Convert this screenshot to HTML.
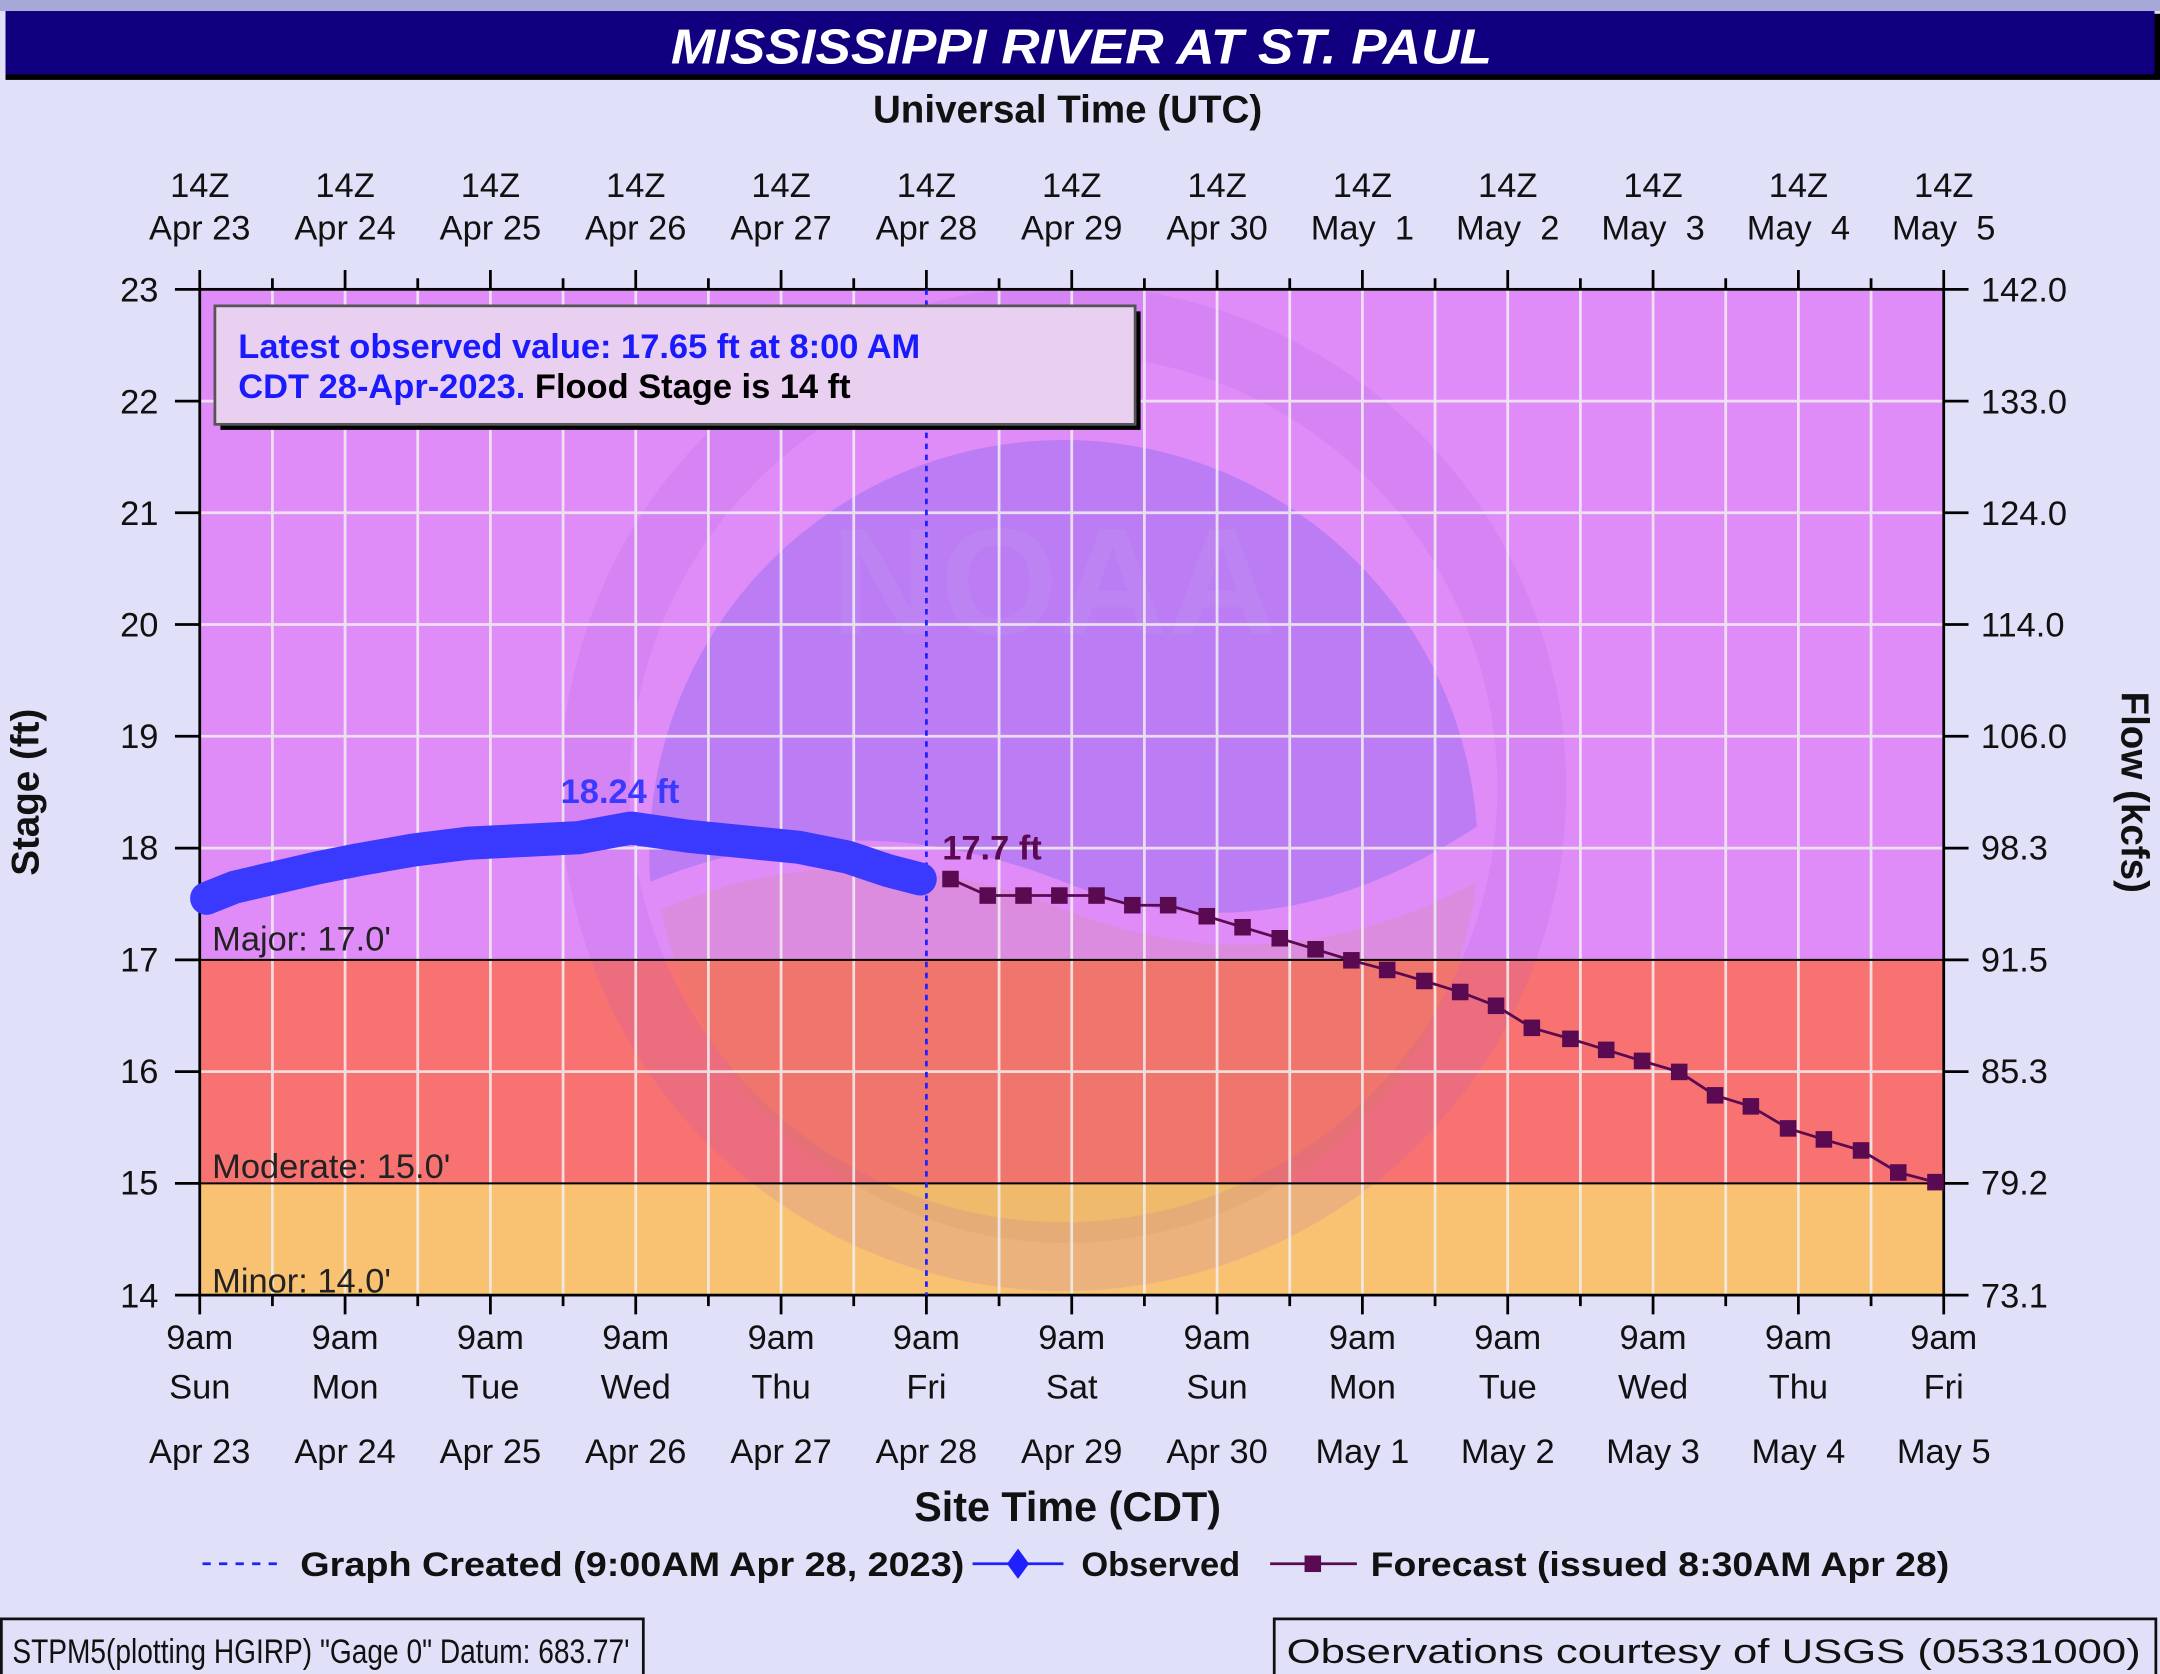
<!DOCTYPE html>
<html><head><meta charset="utf-8"><style>
html,body{margin:0;padding:0;background:#e0e0f8;}
svg{display:block;font-family:"Liberation Sans",sans-serif;}
</style></head><body>
<svg width="2160" height="1674" viewBox="0 0 1568 1215" preserveAspectRatio="none" xmlns="http://www.w3.org/2000/svg">
<defs><clipPath id="plot"><rect x="145" y="210" width="1266" height="730"/></clipPath></defs>
<rect x="0" y="0" width="1568" height="1215" fill="#e0e0f8"/>
<rect x="0" y="0" width="1568" height="8" fill="#a8a8d8"/>
<rect x="4" y="10" width="1564" height="48" fill="#000"/>
<rect x="4" y="8" width="1560" height="46" fill="#10007f"/>
<text x="785" y="46" text-anchor="middle" font-size="36" font-weight="bold" font-style="italic" fill="#fff" textLength="596" lengthAdjust="spacingAndGlyphs">MISSISSIPPI RIVER AT ST. PAUL</text>
<text x="775" y="89" text-anchor="middle" font-size="28" font-weight="bold" fill="#111">Universal Time (UTC)</text>

<!-- bands -->
<rect x="145" y="210" width="1266" height="486.7" fill="#e08cf8"/>
<rect x="145" y="696.7" width="1266" height="162.2" fill="#f87272"/>
<rect x="145" y="858.9" width="1266" height="81.1" fill="#f8c272"/>
<!-- watermark -->
<g clip-path="url(#plot)">
<circle cx="772" cy="572" r="340" fill="none" stroke="#9050d0" stroke-width="50" opacity="0.13"/>
<path d="M472 640 A300 300 0 0 1 1072 600 Q920 700 772 640 Q620 580 472 640Z" fill="#5050e8" opacity="0.25"/>
<path d="M480 660 Q620 600 772 660 T1072 640 A300 300 0 0 1 480 660Z" fill="#c09050" opacity="0.15"/>
</g>
<text x="765" y="460" text-anchor="middle" font-size="110" font-weight="bold" fill="#c090f0" opacity="0.35">NOAA</text>

<!-- grid -->
<g stroke="#f0f0f0" stroke-width="2" opacity="0.85">
<line x1="197.75" y1="210" x2="197.75" y2="940"/><line x1="250.5" y1="210" x2="250.5" y2="940"/><line x1="303.25" y1="210" x2="303.25" y2="940"/><line x1="356" y1="210" x2="356" y2="940"/><line x1="408.75" y1="210" x2="408.75" y2="940"/><line x1="461.5" y1="210" x2="461.5" y2="940"/><line x1="514.25" y1="210" x2="514.25" y2="940"/><line x1="567" y1="210" x2="567" y2="940"/><line x1="619.75" y1="210" x2="619.75" y2="940"/><line x1="725.25" y1="210" x2="725.25" y2="940"/><line x1="778" y1="210" x2="778" y2="940"/><line x1="830.75" y1="210" x2="830.75" y2="940"/><line x1="883.5" y1="210" x2="883.5" y2="940"/><line x1="936.25" y1="210" x2="936.25" y2="940"/><line x1="989" y1="210" x2="989" y2="940"/><line x1="1041.75" y1="210" x2="1041.75" y2="940"/><line x1="1094.5" y1="210" x2="1094.5" y2="940"/><line x1="1147.25" y1="210" x2="1147.25" y2="940"/><line x1="1200" y1="210" x2="1200" y2="940"/><line x1="1252.75" y1="210" x2="1252.75" y2="940"/><line x1="1305.5" y1="210" x2="1305.5" y2="940"/><line x1="1358.25" y1="210" x2="1358.25" y2="940"/>
<line x1="145" y1="291.1" x2="1411" y2="291.1"/><line x1="145" y1="372.2" x2="1411" y2="372.2"/><line x1="145" y1="453.3" x2="1411" y2="453.3"/><line x1="145" y1="534.4" x2="1411" y2="534.4"/><line x1="145" y1="615.6" x2="1411" y2="615.6"/><line x1="145" y1="777.8" x2="1411" y2="777.8"/>
</g>
<line x1="145" y1="696.7" x2="1411" y2="696.7" stroke="#000" stroke-width="1.5"/>
<line x1="145" y1="858.9" x2="1411" y2="858.9" stroke="#000" stroke-width="1.5"/>
<rect x="145" y="210" width="1266" height="730" fill="none" stroke="#000" stroke-width="2"/>
<line x1="672.5" y1="210" x2="672.5" y2="940" stroke="#2020ff" stroke-width="2" stroke-dasharray="4,4"/>

<!-- ticks -->
<g stroke="#000" stroke-width="2">
<path d="M145 196V210M197.75 202V210M250.5 196V210M303.25 202V210M356 196V210M408.75 202V210M461.5 196V210M514.25 202V210M567 196V210M619.75 202V210M672.5 196V210M725.25 202V210M778 196V210M830.75 202V210M883.5 196V210M936.25 202V210M989 196V210M1041.75 202V210M1094.5 196V210M1147.25 202V210M1200 196V210M1252.75 202V210M1305.5 196V210M1358.25 202V210M1411 196V210"/>
<path d="M145 940V954M197.75 940V948M250.5 940V954M303.25 940V948M356 940V954M408.75 940V948M461.5 940V954M514.25 940V948M567 940V954M619.75 940V948M672.5 940V954M725.25 940V948M778 940V954M830.75 940V948M883.5 940V954M936.25 940V948M989 940V954M1041.75 940V948M1094.5 940V954M1147.25 940V948M1200 940V954M1252.75 940V948M1305.5 940V954M1358.25 940V948M1411 940V954"/>
<path d="M127 210H145M127 291.1H145M127 372.2H145M127 453.3H145M127 534.4H145M127 615.6H145M127 696.7H145M127 777.8H145M127 858.9H145M127 940H145"/>
<path d="M1411 210H1429M1411 291.1H1429M1411 372.2H1429M1411 453.3H1429M1411 534.4H1429M1411 615.6H1429M1411 696.7H1429M1411 777.8H1429M1411 858.9H1429M1411 940H1429"/>
</g>

<!-- y labels -->
<g font-size="25" fill="#111" text-anchor="end">
<text x="115" y="219">23</text><text x="115" y="300">22</text><text x="115" y="381">21</text><text x="115" y="462">20</text><text x="115" y="543">19</text><text x="115" y="624">18</text><text x="115" y="705">17</text><text x="115" y="786">16</text><text x="115" y="867">15</text><text x="115" y="949">14</text>
</g>
<g font-size="25" fill="#111">
<text x="1438" y="219">142.0</text><text x="1438" y="300">133.0</text><text x="1438" y="381">124.0</text><text x="1438" y="462">114.0</text><text x="1438" y="543">106.0</text><text x="1438" y="624">98.3</text><text x="1438" y="705">91.5</text><text x="1438" y="786">85.3</text><text x="1438" y="867">79.2</text><text x="1438" y="949">73.1</text>
</g>
<text transform="translate(28,575) rotate(-90)" text-anchor="middle" font-size="28" font-weight="bold" fill="#111">Stage (ft)</text>
<text transform="translate(1540,575) rotate(90)" text-anchor="middle" font-size="28" font-weight="bold" fill="#111">Flow (kcfs)</text>

<!-- top x labels -->
<g font-size="25" fill="#111" text-anchor="middle">
<text x="145" y="143">14Z</text><text x="250.5" y="143">14Z</text><text x="356" y="143">14Z</text><text x="461.5" y="143">14Z</text><text x="567" y="143">14Z</text><text x="672.5" y="143">14Z</text><text x="778" y="143">14Z</text><text x="883.5" y="143">14Z</text><text x="989" y="143">14Z</text><text x="1094.5" y="143">14Z</text><text x="1200" y="143">14Z</text><text x="1305.5" y="143">14Z</text><text x="1411" y="143">14Z</text>
<text x="145" y="174">Apr 23</text><text x="250.5" y="174">Apr 24</text><text x="356" y="174">Apr 25</text><text x="461.5" y="174">Apr 26</text><text x="567" y="174">Apr 27</text><text x="672.5" y="174">Apr 28</text><text x="778" y="174">Apr 29</text><text x="883.5" y="174">Apr 30</text><text x="989" y="174" xml:space="preserve">May  1</text><text x="1094.5" y="174" xml:space="preserve">May  2</text><text x="1200" y="174" xml:space="preserve">May  3</text><text x="1305.5" y="174" xml:space="preserve">May  4</text><text x="1411" y="174" xml:space="preserve">May  5</text>
</g>
<!-- bottom x labels -->
<g font-size="25" fill="#111" text-anchor="middle">
<text x="145" y="979">9am</text><text x="250.5" y="979">9am</text><text x="356" y="979">9am</text><text x="461.5" y="979">9am</text><text x="567" y="979">9am</text><text x="672.5" y="979">9am</text><text x="778" y="979">9am</text><text x="883.5" y="979">9am</text><text x="989" y="979">9am</text><text x="1094.5" y="979">9am</text><text x="1200" y="979">9am</text><text x="1305.5" y="979">9am</text><text x="1411" y="979">9am</text>
<text x="145" y="1015">Sun</text><text x="250.5" y="1015">Mon</text><text x="356" y="1015">Tue</text><text x="461.5" y="1015">Wed</text><text x="567" y="1015">Thu</text><text x="672.5" y="1015">Fri</text><text x="778" y="1015">Sat</text><text x="883.5" y="1015">Sun</text><text x="989" y="1015">Mon</text><text x="1094.5" y="1015">Tue</text><text x="1200" y="1015">Wed</text><text x="1305.5" y="1015">Thu</text><text x="1411" y="1015">Fri</text>
<text x="145" y="1062">Apr 23</text><text x="250.5" y="1062">Apr 24</text><text x="356" y="1062">Apr 25</text><text x="461.5" y="1062">Apr 26</text><text x="567" y="1062">Apr 27</text><text x="672.5" y="1062">Apr 28</text><text x="778" y="1062">Apr 29</text><text x="883.5" y="1062">Apr 30</text><text x="989" y="1062">May 1</text><text x="1094.5" y="1062">May 2</text><text x="1200" y="1062">May 3</text><text x="1305.5" y="1062">May 4</text><text x="1411" y="1062">May 5</text>
</g>
<text x="775" y="1104" text-anchor="middle" font-size="30" font-weight="bold" fill="#111">Site Time (CDT)</text>

<!-- flood labels -->
<g font-size="25" fill="#222">
<text x="154" y="690">Major: 17.0'</text>
<text x="154" y="855">Moderate: 15.0'</text>
<text x="154" y="938">Minor: 14.0'</text>
</g>

<!-- info box -->
<rect x="160" y="226" width="668" height="86" fill="#000"/>
<rect x="156" y="222" width="668" height="86" fill="#ead0f0" stroke="#555" stroke-width="2"/>
<text x="173" y="260" font-size="25" font-weight="bold" fill="#1a1aff">Latest observed value: 17.65 ft at 8:00 AM</text>
<text x="173" y="289" font-size="25" font-weight="bold" fill="#1a1aff">CDT 28-Apr-2023. <tspan fill="#000">Flood Stage is 14 ft</tspan></text>

<!-- observed -->
<path d="M150 652 L170 644 L200 637 L230 630 L260 624 L300 617 L340 612 L380 610 L420 608 L458 601 L500 607 L540 611 L580 615 L615 622 L645 632 L668 638" fill="none" stroke="#3a3aff" stroke-width="24" stroke-linejoin="round" stroke-linecap="round"/>
<text x="407" y="583" font-size="25" font-weight="bold" fill="#3a3aff">18.24 ft</text>

<!-- forecast -->
<polyline fill="none" stroke="#5a0a50" stroke-width="2" points="690,638 717,650 743,650 769,650 796,650 822,657 848,657 876,665 902,673 929,681 955,689 981,697 1007,704 1034,712 1060,720 1086,730 1112,746 1140,754 1166,762 1192,770 1219,778 1245,795 1271,803 1298,819 1324,827 1351,835 1378,851 1405,858"/>
<g fill="#5a0a50">
<rect x="684" y="632" width="12" height="12"/><rect x="711" y="644" width="12" height="12"/><rect x="737" y="644" width="12" height="12"/><rect x="763" y="644" width="12" height="12"/><rect x="790" y="644" width="12" height="12"/><rect x="816" y="651" width="12" height="12"/><rect x="842" y="651" width="12" height="12"/><rect x="870" y="659" width="12" height="12"/><rect x="896" y="667" width="12" height="12"/><rect x="923" y="675" width="12" height="12"/><rect x="949" y="683" width="12" height="12"/><rect x="975" y="691" width="12" height="12"/><rect x="1001" y="698" width="12" height="12"/><rect x="1028" y="706" width="12" height="12"/><rect x="1054" y="714" width="12" height="12"/><rect x="1080" y="724" width="12" height="12"/><rect x="1106" y="740" width="12" height="12"/><rect x="1134" y="748" width="12" height="12"/><rect x="1160" y="756" width="12" height="12"/><rect x="1186" y="764" width="12" height="12"/><rect x="1213" y="772" width="12" height="12"/><rect x="1239" y="789" width="12" height="12"/><rect x="1265" y="797" width="12" height="12"/><rect x="1292" y="813" width="12" height="12"/><rect x="1318" y="821" width="12" height="12"/><rect x="1345" y="829" width="12" height="12"/><rect x="1372" y="845" width="12" height="12"/><rect x="1399" y="852" width="12" height="12"/>
</g>
<text x="684" y="624" font-size="25" font-weight="bold" fill="#5a0a50">17.7 ft</text>

<!-- legend -->
<line x1="147" y1="1135" x2="205" y2="1135" stroke="#2020ff" stroke-width="2" stroke-dasharray="6,6"/>
<text x="218" y="1144" font-size="25" font-weight="bold" fill="#111" textLength="482" lengthAdjust="spacingAndGlyphs">Graph Created (9:00AM Apr 28, 2023)</text>
<line x1="706" y1="1135" x2="772" y2="1135" stroke="#2020ff" stroke-width="2"/>
<path d="M739 1124 L747 1135 L739 1146 L731 1135Z" fill="#2020ff"/>
<text x="785" y="1144" font-size="25" font-weight="bold" fill="#111">Observed</text>
<line x1="922" y1="1135" x2="985" y2="1135" stroke="#5a0a50" stroke-width="2"/>
<rect x="947" y="1129" width="12" height="12" fill="#5a0a50"/>
<text x="995" y="1144" font-size="25" font-weight="bold" fill="#111" textLength="420" lengthAdjust="spacingAndGlyphs">Forecast (issued 8:30AM Apr 28)</text>

<!-- footer boxes -->
<rect x="1" y="1175" width="466" height="45" fill="none" stroke="#111" stroke-width="2"/>
<text x="9" y="1207" font-size="25" fill="#111" textLength="448" lengthAdjust="spacingAndGlyphs">STPM5(plotting HGIRP) "Gage 0" Datum: 683.77'</text>
<rect x="925" y="1175" width="640" height="45" fill="none" stroke="#111" stroke-width="2"/>
<text x="934" y="1207" font-size="25" fill="#111" textLength="620" lengthAdjust="spacingAndGlyphs">Observations courtesy of USGS (05331000)</text>
</svg>
</body></html>
